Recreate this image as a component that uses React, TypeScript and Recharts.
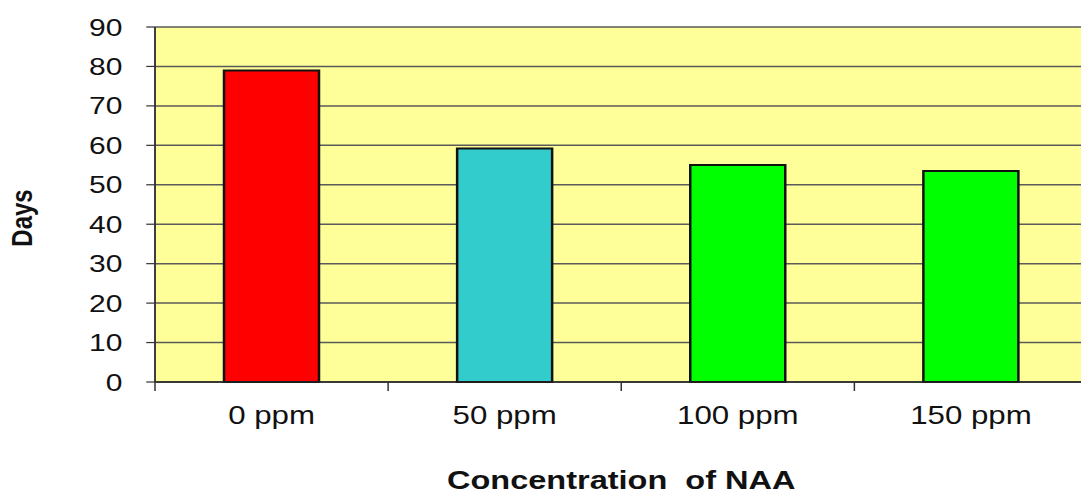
import { BarChart, Bar, XAxis, YAxis, CartesianGrid, Cell } from "recharts";

const categories = ["0 ppm", "50 ppm", "100 ppm", "150 ppm"];
const days = [79, 59.2, 55, 53.5];
const barColors = ["#FF0000", "#33CCCC", "#00FF00", "#00FF00"];
const yTicks = [0, 10, 20, 30, 40, 50, 60, 70, 80, 90];

const data = categories.map((c, i) => ({ name: c, days: days[i] }));

// the source image is stretched sideways, so the svg is scaled on x
const STRETCH = 1.25;
const FONT = "'Liberation Sans', Arial, sans-serif";

function CategoryTick(props: any) {
  const { x, y, payload } = props;
  const half = payload?.offset ?? 0;
  return (
    <g>
      <line x1={x - half} y1={y} x2={x - half} y2={y + 9} stroke="#333" strokeWidth={1.2} />
      <text x={x} y={y + 42} textAnchor="middle" fontSize={25} fill="#111" fontFamily={FONT}>
        {payload.value}
      </text>
    </g>
  );
}

function DaysLabel(props: any) {
  const y = 218;
  return (
    <text
      x={26}
      y={y}
      transform={`rotate(-90, 26, ${y})`}
      textAnchor="middle"
      fontSize={24}
      fontWeight="bold"
      fill="#111"
      fontFamily={FONT}
    >
      Days
    </text>
  );
}

function XTitle(props: any) {
  const { viewBox } = props;
  return (
    <text
      x={viewBox.x + viewBox.width / 2}
      y={viewBox.y + 107}
      textAnchor="middle"
      fontSize={26}
      fontWeight="bold"
      fill="#111"
      fontFamily={FONT}
      style={{ whiteSpace: "pre" }}
    >
      {"Concentration  of NAA"}
    </text>
  );
}

export default function App() {
  return (
    <div style={{ position: "absolute", left: 0, top: 0, width: 1081, height: 495, overflow: "hidden", background: "#fff" }}>
      <div style={{ transform: `scaleX(${STRETCH})`, transformOrigin: "0 0" }}>
        <BarChart
          width={873}
          height={495}
          data={data}
          margin={{ top: 27, right: 3, left: 0, bottom: 0 }}
          barCategoryGap="29.6%"
        >
          <CartesianGrid vertical={false} fill="#FFFF99" stroke="#5a5a5a" strokeWidth={1.5} fillOpacity={1} />
          <XAxis
            dataKey="name"
            height={113}
            tickLine={false}
            tickSize={0}
            tickMargin={0}
            axisLine={{ stroke: "#222", strokeWidth: 1.5 }}
            tick={<CategoryTick />}
            interval={0}
            label={<XTitle />}
          />
          <YAxis
            width={124}
            domain={[0, 90]}
            ticks={yTicks}
            interval={0}
            tickSize={7}
            tickMargin={19}
            tickLine={{ stroke: "#333", strokeWidth: 1.2 }}
            axisLine={{ stroke: "#333", strokeWidth: 1.5 }}
            tick={{ fontSize: 24, fill: "#111", fontFamily: FONT }}
            label={<DaysLabel />}
          />
          <Bar dataKey="days" stroke="#111" strokeWidth={2} isAnimationActive={false}>
            {data.map((d, i) => (
              <Cell key={d.name} fill={barColors[i]} />
            ))}
          </Bar>
        </BarChart>
      </div>
    </div>
  );
}
